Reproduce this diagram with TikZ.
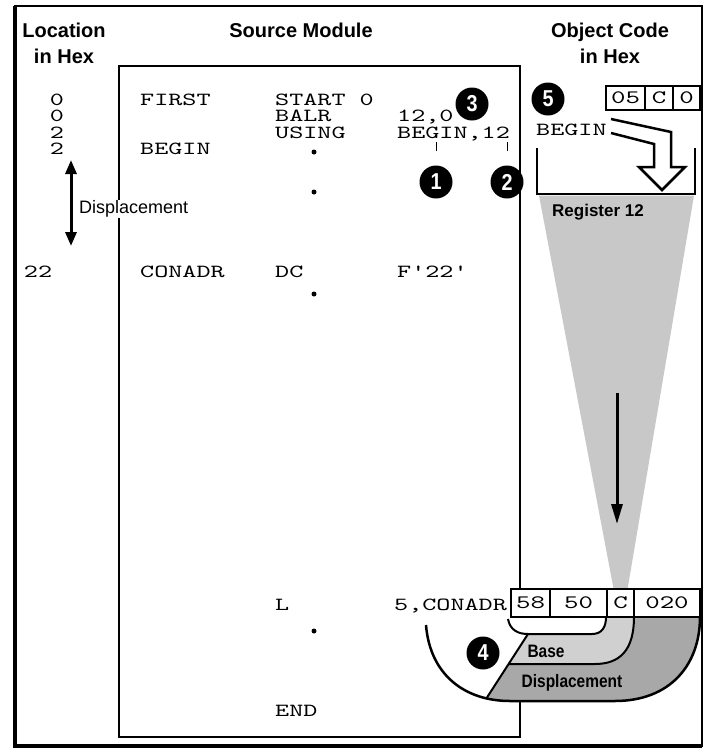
\documentclass[tikz,border=0pt]{standalone}
\usepackage{fontspec}
\newfontfamily\hdrfont{Liberation Sans}
\newfontfamily\narrowfont{Liberation Sans}[FakeStretch=0.86]
\newfontfamily\codefont{lmmono10-regular.otf}[FakeStretch=1.45]
\usetikzlibrary{arrows.meta,positioning}
\definecolor{regfill}{RGB}{200,200,200}
\definecolor{basefill}{RGB}{208,208,208}
\definecolor{dispfill}{RGB}{168,168,168}

\begin{document}
\begin{tikzpicture}[x=1pt,y=-1pt,
    node distance=0pt,
    hdr/.style={font=\hdrfont\bfseries\fontsize{20}{26}\selectfont,align=center,inner sep=0},
    code/.style={font=\codefont\fontsize{18.5}{21}\selectfont,anchor=base west,inner sep=0},
    loc/.style={font=\codefont\fontsize{18.5}{21}\selectfont,anchor=base,inner sep=0},
    badge/.style={circle,fill=black,text=white,minimum size=33pt,inner sep=0,font=\narrowfont\bfseries\fontsize{23}{23}\selectfont},
    cell/.style={draw,line width=1.5pt,fill=white,inner sep=0,outer sep=0,font=\codefont\fontsize{19}{22}\selectfont},
    tag/.style={font=\hdrfont\fontsize{18}{20}\selectfont,inner sep=1pt},
    btag/.style={font=\narrowfont\bfseries\fontsize{18}{20}\selectfont,inner sep=0},
    srcdot/.style={circle,fill=black,inner sep=0,minimum size=5pt},
    arrow/.style={line width=3pt,-{Triangle[length=20pt,width=11pt]}},
    darrow/.style={line width=3pt,{Triangle[length=14pt,width=11pt]}-{Triangle[length=14pt,width=11pt]}}
]
\useasboundingbox (0,0) rectangle (706,753);
\draw[line width=1.5pt] (15,6) rectangle (702,746);
\draw[line width=4pt] (15,6) -- (15,746) -- (702,746);

\node[hdr] (lochdr) at (64,43) {Location\\in Hex};
\node[hdr] (srchdr) at (301,30) {Source Module};
\node[hdr] (objhdr) at (610,43) {Object Code\\in Hex};

\node[draw,line width=1.2pt,minimum width=401pt,minimum height=671pt,anchor=north west,inner sep=0,outer sep=0] (srcbox) at (119,66) {};

\node[loc] (loc1) at (57,105) {0};
\node[loc] (loc2) at (57,121.5) {0};
\node[loc] (loc3) at (57,138) {2};
\node[loc] (loc4) at (57,154.5) {2};
\node[loc] (loc22) at (38,277) {22};

\node[code] (first) at (140,105) {FIRST};
\node[code] (start) at (275,105) {START 0};
\node[code] (balr) at (275,121.5) {BALR};
\node[code] (balrop) at (397,121.5) {12,0};
\node[code] (using) at (275,138) {USING};
\node[code] (usingop) at (397,138) {BEGIN,12};
\node[code] (begin) at (140,154.5) {BEGIN};
\node[code] (conadr) at (140,277) {CONADR};
\node[code] (dc) at (275,277) {DC};
\node[code] (dcop) at (397,277) {F'22'};
\node[code] (load) at (275,610) {L};
\node[code] (loadop) at (394,610) {5,CONADR};
\node[code] (endst) at (275,716) {END};

\node[srcdot] (dot1) at (314,152) {};
\node[srcdot] (dot2) at (314,192) {};
\node[srcdot] (dot3) at (314,294) {};
\node[srcdot] (dot4) at (314,631) {};

\draw[darrow] (71,160) -- (71,246);
\node[tag,fill=white,anchor=west] (displ) at (78,209) {Displacement};

% register 12
\fill[regfill] (539,195.5) -- (694,195.5) -- (621,628) -- cycle;
\draw[line width=2.5pt] (537,148) -- (537,194) -- (695,194) -- (695,148);
\node[code] (regbegin) at (536,135) {BEGIN};
\draw[line width=2.5pt,fill=white,line join=miter] (611,119) -- (671,132) -- (671,167) -- (685,167) -- (662,190) -- (639,167) -- (654,167) -- (654,144) -- (611,133);
\node[font=\hdrfont\bfseries\fontsize{17}{20}\selectfont,inner sep=0] (reglbl) at (598,212) {Register 12};
\draw[arrow] (617,393) -- (617,524);

% base and displacement
\fill[white] (426,617) -- (426,625) .. controls (430,675) and (465,701) .. (510,701) -- (615,701) .. controls (670,701) and (700,665) .. (700,617) -- cycle;
\begin{scope}
  \clip (426,617) -- (426,625) .. controls (430,675) and (465,701) .. (510,701) -- (615,701) .. controls (670,701) and (700,665) .. (700,617) -- cycle;
  \fill[dispfill] (466,730) -- (550,600) -- (720,600) -- (720,730) -- cycle;
  \begin{scope}
    \clip (466,730) -- (550,600) -- (720,600) -- (720,730) -- cycle;
    \fill[basefill] (634,617) .. controls (634,650) and (620,664) .. (595,664) -- (450,664) -- (450,600) -- (634,600) -- cycle;
  \end{scope}
  \fill[white] (508,617) -- (508,619) .. controls (510,630) and (518,634) .. (528,634) -- (592,634) .. controls (602,634) and (606,627) .. (606,617) -- cycle;
\end{scope}
\draw[line width=2.5pt] (426,625) .. controls (430,675) and (465,701) .. (510,701) -- (615,701) .. controls (670,701) and (700,665) .. (700,617);
\draw[line width=2pt] (486,699) -- (528,634);
\draw[line width=2pt] (634,617) .. controls (634,650) and (620,664) .. (595,664) -- (508.6,664);
\draw[line width=2pt] (508,619) .. controls (510,630) and (518,634) .. (528,634) -- (592,634) .. controls (602,634) and (606,627) .. (606,617);
\node[btag] (baselbl) at (546,651) {Base};
\node[btag] (displbl) at (572,683) {Displacement};

\node[cell,minimum width=39pt,minimum height=24pt,anchor=north west] (oc05) at (606,86) {05};
\node[cell,minimum width=28pt,minimum height=24pt,right=of oc05] (ocC) {C};
\node[cell,minimum width=27pt,minimum height=24pt,right=of ocC] (oc0) {0};

\node[cell,minimum width=39pt,minimum height=28pt,anchor=north west] (oc58) at (511,589) {58};
\node[cell,minimum width=57pt,minimum height=28pt,right=of oc58] (oc50) {50};
\node[cell,minimum width=27pt,minimum height=28pt,right=of oc50] (ocCC) {C};
\node[cell,minimum width=66pt,minimum height=28pt,right=of ocCC] (oc020) {020};

\node[badge] (b3) at (472,104) {3};
\node[badge] (b5) at (548,99) {5};
\node[badge] (b1) at (436,182) {1};
\node[badge] (b2) at (507,182) {2};
\node[badge] (b4) at (483,653) {4};
\coordinate (tk1) at (436,142);
\coordinate (tk2) at (507,142);
\draw[line width=1pt,shorten >=14pt] (tk1) -- (b1.north);
\draw[line width=1pt,shorten >=14pt] (tk2) -- (b2.north);
\end{tikzpicture}
\end{document}
